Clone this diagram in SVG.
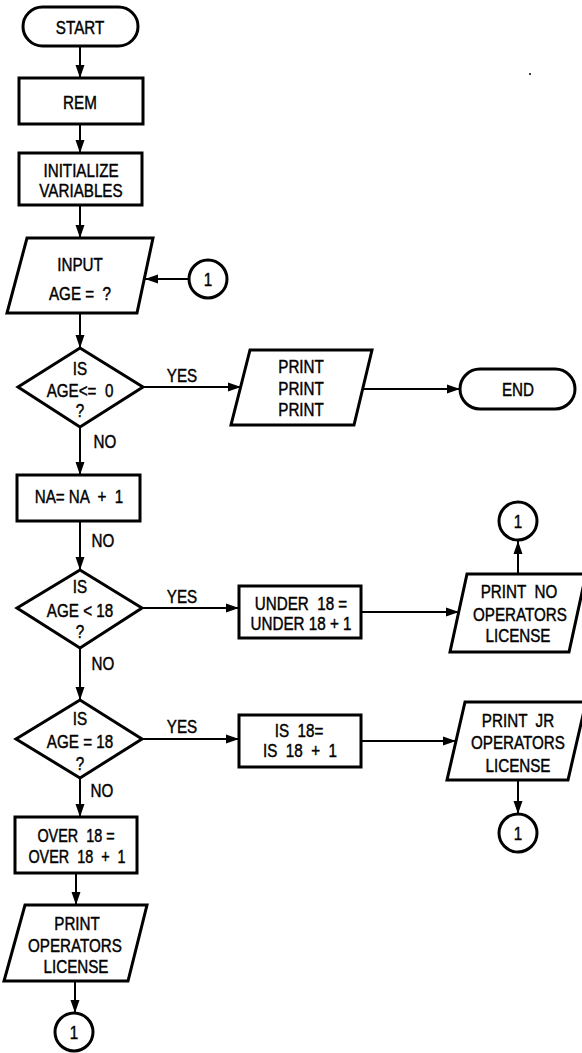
<svg xmlns="http://www.w3.org/2000/svg" width="582" height="1053" viewBox="0 0 582 1053">
<style>
.s{fill:#fff;stroke:#000;stroke-width:3;stroke-linejoin:miter}
.c{fill:none;stroke:#000;stroke-width:2;marker-end:url(#ah)}
text{font-family:"Liberation Sans",Arial,sans-serif;font-size:19px;text-anchor:middle;fill:#000;stroke:#000;stroke-width:0.45;white-space:pre;transform-box:fill-box;transform-origin:center;transform:scaleX(0.8)}
.sm{font-size:18px}
</style>
<defs>
<marker id="ah" markerUnits="userSpaceOnUse" markerWidth="14" markerHeight="10" refX="13" refY="5" orient="auto">
<path d="M0,0.5 L13,5 L0,9.5 z" fill="#000"/>
</marker>
</defs>
<rect width="582" height="1053" fill="#fff"/>
<g id="connectors">
<line class="c" x1="80" y1="46" x2="80" y2="78"/>
<line class="c" x1="80" y1="124" x2="80" y2="153"/>
<line class="c" x1="80" y1="205" x2="80" y2="238"/>
<line class="c" x1="189" y1="279" x2="145" y2="279"/>
<line class="c" x1="80" y1="313" x2="80" y2="348"/>
<line class="c" x1="143" y1="387" x2="241" y2="387"/>
<line class="c" x1="362" y1="389" x2="460" y2="389"/>
<line class="c" x1="80" y1="427" x2="80" y2="475"/>
<line class="c" x1="80" y1="521" x2="80" y2="570"/>
<line class="c" x1="142" y1="608" x2="239" y2="608"/>
<line class="c" x1="361" y1="612" x2="459" y2="612"/>
<line class="c" x1="518" y1="574" x2="518" y2="541"/>
<line class="c" x1="80" y1="648" x2="80" y2="700"/>
<line class="c" x1="142" y1="739" x2="239" y2="739"/>
<line class="c" x1="361" y1="741" x2="456" y2="741"/>
<line class="c" x1="518" y1="780" x2="518" y2="814"/>
<line class="c" x1="80" y1="778" x2="80" y2="817"/>
<line class="c" x1="76" y1="873" x2="76" y2="905"/>
<line class="c" x1="75" y1="981" x2="75" y2="1013"/>
<text x="182" y="382">YES</text>
<text x="105" y="448">NO</text>
<text x="103" y="547">NO</text>
<text x="182" y="603">YES</text>
<text x="103" y="670">NO</text>
<text x="182" y="733">YES</text>
<text x="102" y="797">NO</text>
</g>
<g id="start">
<rect class="s" x="23" y="7" width="115" height="39" rx="19.5"/>
<text x="80" y="34">START</text>
</g>
<g id="rem">
<rect class="s" x="19" y="78" width="124" height="46"/>
<text x="80" y="109">REM</text>
</g>
<g id="init">
<rect class="s" x="19" y="153" width="123" height="52"/>
<text x="81" y="177">INITIALIZE</text>
<text x="81" y="197">VARIABLES</text>
</g>
<g id="input">
<polygon class="s" points="27,238 153,238 137,313 7,313"/>
<text x="80" y="271">INPUT</text>
<text x="80" y="300">AGE =  ?</text>
</g>
<g id="conn-input">
<circle class="s" cx="208" cy="279" r="19"/>
<text x="208" y="286">1</text>
</g>
<g id="dec1">
<polygon class="s" points="80,348 143,387 80,427 18,387"/>
<text x="80" y="375">IS</text>
<text x="80" y="397">AGE&lt;=  0</text>
<text x="80" y="417">?</text>
</g>
<g id="print3">
<polygon class="s" points="250,350 372,350 354,425 231,425"/>
<text x="301" y="373">PRINT</text>
<text x="301" y="395">PRINT</text>
<text x="301" y="416">PRINT</text>
</g>
<g id="end">
<rect class="s" x="460" y="369" width="115" height="40" rx="20"/>
<text x="518" y="396">END</text>
</g>
<g id="na">
<rect class="s" x="17" y="475" width="123" height="46"/>
<text x="79" y="503">NA= NA  +  1</text>
</g>
<g id="dec2">
<polygon class="s" points="80,570 142,608 80,648 17,608"/>
<text x="80" y="593">IS</text>
<text x="80" y="617">AGE &lt; 18</text>
<text x="80" y="638">?</text>
</g>
<g id="under">
<rect class="s" x="239" y="586" width="122" height="52"/>
<text x="301" y="610">UNDER  18 =</text>
<text x="301" y="630">UNDER 18 + 1</text>
</g>
<g id="printno">
<polygon class="s" points="467,574 586,574 569,652 450,652"/>
<text x="519" y="598">PRINT  NO</text>
<text x="520" y="621">OPERATORS</text>
<text x="518" y="642">LICENSE</text>
</g>
<g id="conn-no">
<circle class="s" cx="518" cy="521" r="19"/>
<text x="518" y="528">1</text>
</g>
<g id="dec3">
<polygon class="s" points="80,700 142,739 80,778 16,739"/>
<text x="80" y="725">IS</text>
<text x="80" y="748">AGE = 18</text>
<text x="80" y="770">?</text>
</g>
<g id="is18">
<rect class="s" x="239" y="715" width="122" height="52"/>
<text x="299" y="737">IS  18=</text>
<text x="300" y="757">IS  18  +  1</text>
</g>
<g id="printjr">
<polygon class="s" points="465,702 586,702 568,780 447,780"/>
<text x="518" y="727">PRINT  JR</text>
<text x="518" y="749">OPERATORS</text>
<text x="518" y="772">LICENSE</text>
</g>
<g id="conn-jr">
<circle class="s" cx="518" cy="833" r="19"/>
<text x="518" y="840">1</text>
</g>
<g id="over">
<rect class="s" x="15" y="817" width="122" height="56"/>
<text class="sm" x="76" y="842">OVER  18 =</text>
<text class="sm" x="77" y="863">OVER  18  +  1</text>
</g>
<g id="printop">
<polygon class="s" points="25,905 147,905 128,981 4,981"/>
<text x="77" y="930">PRINT</text>
<text x="75" y="952">OPERATORS</text>
<text x="76" y="973">LICENSE</text>
</g>
<g id="conn-op">
<circle class="s" cx="74" cy="1032" r="19"/>
<text x="74" y="1039">1</text>
</g>
<circle cx="530" cy="74" r="1" fill="#000"/>
</svg>
